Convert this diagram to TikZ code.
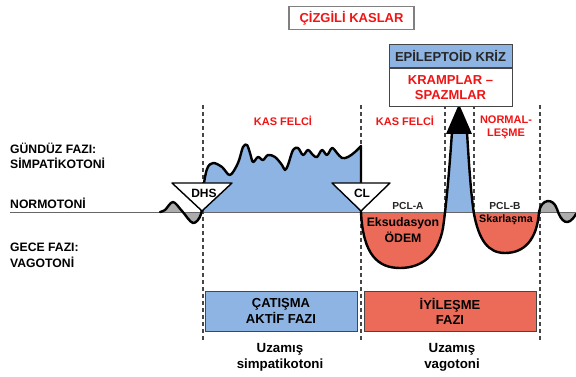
\documentclass[tikz,border=0pt]{standalone}
\usepackage{fontspec}
\setmainfont{Liberation Sans}
\definecolor{bfill}{RGB}{141,180,226}
\definecolor{rfill}{RGB}{236,106,88}
\definecolor{gfill}{RGB}{172,172,172}
\definecolor{txtred}{RGB}{240,20,20}
\definecolor{dgray}{RGB}{70,70,70}
\begin{document}
\begin{tikzpicture}[x=1pt,y=-1pt,
  fs/.style={font=\bfseries\fontsize{#1}{#1}\selectfont},
  lbl/.style={fs=12.2, anchor=west, inner sep=0},
  redlbl/.style={fs=11, text=txtred, inner sep=0},
  boxtxt/.style={fs=13, inner sep=0},
  curve/.style={line width=2.4pt, line join=round, line cap=round},
  vdash/.style={dgray, line width=1.3pt, dash pattern=on 4pt off 3pt},
  tri/.style={draw, fill=white, line width=1.4pt, line join=round},
  leftwig/.style={insert path={plot[smooth,tension=0.55] coordinates {(160,212) (165,210) (173,202) (182,211) (193,223) (201,214) (203,190) (207,169) (213,163) (222,167) (230,175) (238,163) (243,147) (247,145) (250,153) (253,162) (258,157) (263,160) (268,155) (275,157) (282,165) (285,170) (288,165) (293,150) (298,148) (303,155) (308,150) (313,155) (317,157) (322,150) (327,155) (332,148) (337,153) (342,158) (348,157) (355,152) (361,146)}}},
  rightA/.style={insert path={(361,212) .. controls (363,255) and (378,268) .. (400,268) .. controls (422,268) and (438,255) .. (443,228) .. controls (447,200) and (450,160) .. (452,132)}},
  rightBrest/.style={insert path={.. controls (469,165) and (471,195) .. (474,214) .. controls (479,240) and (488,253) .. (505,253) .. controls (524,253) and (537,240) .. (539,212) .. controls (541,199) and (553,197) .. (557,209) .. controls (561,222) and (568,228) .. (576,214)}},
  rightB/.style={insert path={(467,132)}, rightBrest}
]
\useasboundingbox (0,0) rectangle (576,377);

% ---- fills ----
\begin{scope}
  \clip (150,100) rectangle (203,300);
  \fill[gfill, leftwig] -- (361,212) -- cycle;
\end{scope}
\begin{scope}
  \clip (203,100) rectangle (361,212);
  \fill[bfill, leftwig] -- (361,212) -- cycle;
\end{scope}
\begin{scope}
  \clip (361,212) rectangle (539,300);
  \fill[rfill, rightA] -- (467,132) [rightBrest] -- (576,212) -- cycle;
\end{scope}
\begin{scope}
  \clip (361,100) rectangle (539,212);
  \fill[bfill, rightA] -- (467,132) [rightBrest] -- (576,212) -- cycle;
\end{scope}
\begin{scope}
  \clip (539,100) rectangle (576,300);
  \fill[gfill, rightA] -- (467,132) [rightBrest] -- (576,212) -- cycle;
\end{scope}

% ---- baseline ----
\coordinate (b0) at (10,212);
\coordinate (b1) at (576,212);
\draw[gray!80!black, line width=1pt] (b0) -- (b1);

% ---- dashed verticals ----
\foreach \n/\x/\ya/\yb in {d1/203/105/340, d2/361/105/340, d3/445/105/212, d4/474/105/212, d5/540/105/340}{
  \coordinate (\n t) at (\x,\ya);
  \coordinate (\n b) at (\x,\yb);
  \draw[vdash] (\n t) -- (\n b);
}

% ---- black curve ----
\draw[curve, leftwig] -- (361,212);
\draw[curve, rightA];
\draw[curve, rightB];
\coordinate (tipL) at (446,134);
\coordinate (tipT) at (459,104);
\coordinate (tipR) at (472,134);
\fill (tipL) -- (tipT) -- (tipR) -- cycle;

% ---- triangles ----
\coordinate (dA) at (172,183); \coordinate (dB) at (232,183); \coordinate (dC) at (202,211);
\draw[tri] (dA) -- (dB) -- (dC) -- cycle;
\coordinate (cA) at (332,183); \coordinate (cB) at (390,183); \coordinate (cC) at (361,211);
\draw[tri] (cA) -- (cB) -- (cC) -- cycle;
\node[fs=12, inner sep=0] (dhs) at (204,193) {DHS};
\node[fs=12, inner sep=0] (cl) at (362,193) {CL};

% ---- top boxes ----
\node[draw=gray, line width=1.3pt, minimum width=125pt, minimum height=23pt, inner sep=0, fs=13, text=txtred] (cizg) at (351.5,18) {ÇİZGİLİ KASLAR};
\node[draw=dgray, fill=bfill, line width=1pt, minimum width=123pt, minimum height=23pt, inner sep=0, anchor=north] (epi) at (450.5,44) {};
\node[boxtxt, text=black!85] at (epi.center) {EPİLEPTOİD KRİZ};
\node[draw=dgray, fill=white, line width=1pt, minimum width=123pt, minimum height=38pt, inner sep=0, anchor=north, align=center, fs=13, text=txtred] (kramp) at (epi.south) {KRAMPLAR –\\[2pt]SPAZMLAR};

% ---- labels ----
\node[redlbl] (kf1) at (283,121) {KAS FELCİ};
\node[redlbl] (kf2) at (405,121) {KAS FELCİ};
\node[redlbl, align=center] (norm) at (506,127.5) {NORMAL-\\[2pt]LEŞME};

\node[lbl] (gunduz) at (10,148) {GÜNDÜZ FAZI:};
\node[lbl] (simp) at (10,163) {SİMPATİKOTONİ};
\node[lbl] (normo) at (10,203) {NORMOTONİ};
\node[lbl] (gece) at (10,247) {GECE FAZI:};
\node[lbl] (vago) at (10,262) {VAGOTONİ};

\node[fs=10.2, inner sep=0, text=black!85] (pcla) at (408,206) {PCL-A};
\node[fs=10.2, inner sep=0, text=black!85] (pclb) at (505,206) {PCL-B};
\node[fs=12.3, inner sep=0, align=center] (eks) at (403,230) {Eksudasyon\\[2pt]ÖDEM};
\node[fs=10.7, inner sep=0] (skar) at (506,220) {Skarlaşma};

% ---- bottom boxes ----
\node[draw=dgray, fill=bfill, line width=1pt, minimum width=152pt, minimum height=40pt, inner sep=0, align=center, fs=13] (cat) at (281,311) {ÇATIŞMA\\[2pt]AKTİF FAZI};
\node[draw=dgray, fill=rfill, line width=1pt, minimum width=172pt, minimum height=40pt, inner sep=0, align=center, fs=13] (iyi) at (450,311) {İYİLEŞME\\[2pt]FAZI};
\node[fs=13.3, inner sep=0, align=center] (uz1) at (280,357.5) {Uzamış\\[3pt]simpatikotoni};
\node[fs=13.3, inner sep=0, align=center] (uz2) at (452,357.5) {Uzamış\\[3pt]vagotoni};
\end{tikzpicture}
\end{document}
